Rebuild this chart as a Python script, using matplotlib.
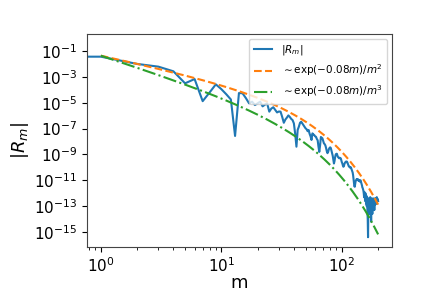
import numpy as np
import matplotlib
matplotlib.use("Agg")
import matplotlib.pyplot as plt

# m values and log10 |R_m|
m_vals = np.arange(0, 201)
log_R = [
    -0.44,
    -1.44, -2.00, -2.21, -2.57, -3.50, -3.17, -4.88, -4.20, -3.58, -3.95,
    -4.35, -4.75, -7.57, -4.25, -4.27, -4.65, -5.05, -4.92, -5.18, -5.05,
    -4.92, -5.28, -5.15, -5.05, -5.69, -5.45, -5.35, -5.56, -5.75, -5.68,
    -5.69, -6.10, -6.55, -6.30, -6.15, -5.98, -6.10, -6.25, -6.34, -6.60,
    -7.40, -8.40, -7.10, -6.85, -6.55, -6.47, -6.60, -6.72, -6.85, -6.98,
    -7.05, -7.20, -7.11, -7.40, -7.60, -7.88, -7.37, -7.45, -7.50, -7.60,
    -7.63, -7.80, -7.90, -8.40, -8.80, -8.30, -7.65, -7.70, -7.75, -7.95,
    -8.14, -8.20, -8.30, -8.50, -8.75, -8.90, -8.80, -8.60, -8.50, -8.45,
    -8.50, -8.70, -8.90, -9.10, -9.40, -9.70, -9.50, -9.20, -9.00, -8.95,
    -8.95, -9.10, -9.20, -9.25, -9.30, -9.25, -9.30, -9.30, -9.45, -9.60,
    -9.70, -9.85, -9.95, -9.90, -9.75, -9.65, -9.60, -9.55, -9.60, -9.55,
    -9.60, -9.70, -9.80, -9.90, -9.95, -9.95, -10.00, -10.05, -10.00, -10.10,
    -10.20, -10.30, -10.40, -10.60, -10.90, -11.20, -11.45, -11.50, -11.30, -11.10,
    -11.00, -10.95, -10.90, -10.95, -10.90, -11.00, -10.95, -11.00, -11.05, -11.00,
    -11.10, -11.05, -11.00, -11.10, -11.20, -11.30, -11.40, -11.55, -11.60, -11.70,
    -11.80, -12.00, -12.30, -11.90, -12.20, -12.60, -12.00, -12.40, -12.80, -12.20,
    -13.00, -12.30, -13.40, -14.00, -15.40, -13.20, -12.40, -12.90, -13.60, -12.50,
    -13.00, -12.30, -13.50, -12.70, -14.20, -12.60, -13.30, -12.40, -13.60, -12.80,
    -12.50, -13.10, -12.40, -12.90, -12.50, -13.30, -12.60, -12.40, -12.90, -12.50,
    -12.70, -12.40, -12.80, -12.50, -12.30, -12.70, -12.40, -12.60, -12.50, -12.60,
]
R_abs = 10.0 ** np.array(log_R)

# reference curves ~ C exp(-0.08 m)/m^p
m_ref = np.arange(1, 201)
C_ref = 0.047
rate = 0.08
orange_vals = C_ref * np.exp(-rate * m_ref) / m_ref**2
green_vals = C_ref * np.exp(-rate * m_ref) / m_ref**3

fig = plt.figure(figsize=(4.36, 2.91), dpi=100)
ax = fig.add_axes([0.1995, 0.151, 0.6995, 0.732])

ax.plot(m_vals, R_abs, color="#1f77b4", lw=1.5, label=r"$|R_m|$")
ax.plot(m_ref, orange_vals, color="#ff7f0e", ls="--", lw=1.5,
        label=r"$\sim \exp(-0.08m)/m^2$")
ax.plot(m_ref, green_vals, color="#2ca02c", ls="-.", lw=1.5,
        label=r"$\sim \exp(-0.08m)/m^3$")

ax.set_xscale("log")
ax.set_yscale("log")
ax.set_xlim(10**-0.115, 10**2.416)
ax.set_ylim(10**-16.16, 10**0.31)
ax.set_yticks([10.0**k for k in range(-15, 0, 2)])

ax.tick_params(axis="both", which="major", labelsize=11)
ax.set_xlabel("m", fontsize=13, labelpad=-1)
ax.set_ylabel(r"$|R_m|$", fontsize=13, labelpad=2)
for sp in ax.spines.values():
    sp.set_color("#444444")

ax.legend(loc="upper right", fontsize=7.5, handlelength=1.8)

fig.savefig("out.png", dpi=100)
